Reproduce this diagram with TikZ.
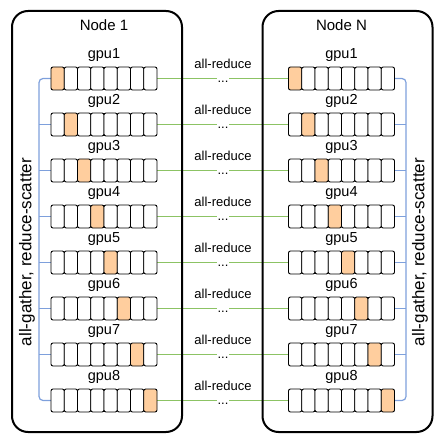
\documentclass[tikz,border=0pt]{standalone}
\usepackage{fontspec}
\setmainfont{Liberation Sans}
\definecolor{cellorange}{RGB}{255,206,158}
\definecolor{linkgreen}{RGB}{140,195,100}
\definecolor{linkblue}{RGB}{126,160,220}
\begin{document}
\begin{tikzpicture}[x=1pt,y=-1pt,
  machine/.style={draw,line width=2pt,rounded corners=16pt,minimum width=170pt,minimum height=421pt,inner sep=0pt},
  title/.style={font=\fontsize{15}{17}\selectfont,inner sep=0pt},
  gpulabel/.style={font=\fontsize{14.5}{16}\selectfont,inner sep=0pt},
  redlabel/.style={font=\fontsize{13}{15}\selectfont,inner sep=0pt},
  dots/.style={font=\fontsize{13}{15}\selectfont,inner sep=0pt},
  sidelabel/.style={font=\fontsize{17}{19}\selectfont,inner sep=0pt,rotate=90},
  cell/.style={draw,line width=0.9pt,rounded corners=2pt,minimum width=13.25pt,minimum height=23pt,inner sep=0pt,outer sep=0pt},
  bar/.style={minimum width=106pt,minimum height=23pt,inner sep=0pt,outer sep=0pt},
  glink/.style={draw=linkgreen,line width=1pt},
  blink/.style={draw=linkblue,line width=1.2pt}]
\useasboundingbox (0,0) rectangle (442,441);
% rows: bars, labels, coordinates
\foreach \k in {1,...,8} {
  \pgfmathsetmacro\yy{78.5+46*(\k-1)}
  \node[bar] (L\k) at (104,\yy) {};
  \node[bar] (R\k) at (341.5,\yy) {};
  \node[gpulabel] (Lg\k) at (104,\yy-23.5) {gpu\k};
  \node[gpulabel] (Rg\k) at (341.5,\yy-23.5) {gpu\k};
  \coordinate (gl\k) at (217,\yy);
  \coordinate (gr\k) at (229,\yy);
  \coordinate (bl\k) at (39,\yy);
  \coordinate (br\k) at (406,\yy);
  \node[redlabel] (ar\k) at (223,\yy-14.5) {all-reduce};
  \node[dots] (dt\k) at (223,\yy+3) {...};
}
% green all-reduce links
\foreach \k in {1,...,8} {
  \draw[glink] (L\k.east) -- (gl\k);
  \draw[glink] (gr\k) -- (R\k.west);
}
% blue intra-node links
\draw[blink,rounded corners=4pt] (L1.west) -- (bl1) -- (bl8) -- (L8.west);
\draw[blink,rounded corners=4pt] (R1.east) -- (br1) -- (br8) -- (R8.east);
\foreach \k in {2,...,7} {
  \draw[blink] (bl\k) -- (L\k.west);
  \draw[blink] (br\k) -- (R\k.east);
}
% machine boxes
\node[machine] (n1) at (97,221.5) {};
\node[machine] (nN) at (347.5,221.5) {};
\node[title] (t1) at (104,25) {Node 1};
\node[title] (tN) at (341.5,25) {Node N};
\node[sidelabel] (s1) at (27,252) {all-gather, reduce-scatter};
\node[sidelabel] (sN) at (420,252) {all-gather, reduce-scatter};
% cells
\foreach \k in {1,...,8} {
  \pgfmathsetmacro\yy{78.5+46*(\k-1)}
  \foreach \c in {1,...,8} {
    \ifnum\c=\k\def\fc{cellorange}\else\def\fc{white}\fi
    \node[cell,fill=\fc] (Lc\k-\c) at (51+13.25*\c-6.625,\yy) {};
    \node[cell,fill=\fc] (Rc\k-\c) at (288.5+13.25*\c-6.625,\yy) {};
  }
}
\end{tikzpicture}
\end{document}
